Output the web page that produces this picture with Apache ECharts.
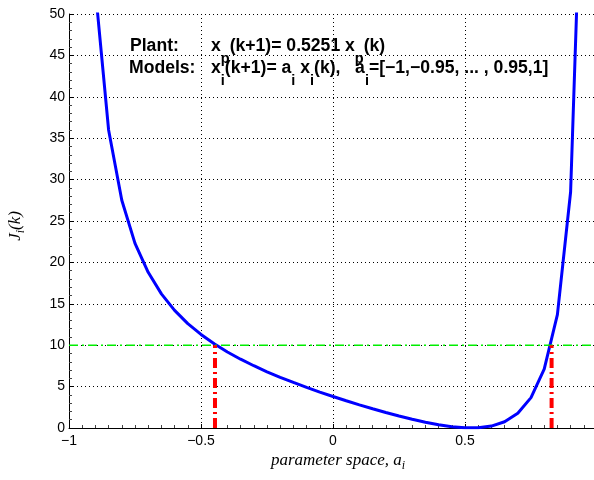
<!DOCTYPE html>
<html><head><meta charset="utf-8">
<script src="https://cdn.jsdelivr.net/npm/echarts@6/dist/echarts.min.js"></script>
<style>html,body{margin:0;padding:0;background:#fff}#c{width:594px;height:480px}</style>
</head><body><div id="c"></div>
<script>
// parameter space a_i = [-1, -0.95, ..., 0.95, 1]
const paramValues = [-1, -0.95, -0.9, -0.85, -0.8, -0.75, -0.7, -0.65, -0.6, -0.55, -0.5,
  -0.45, -0.4, -0.35, -0.3, -0.25, -0.2, -0.15, -0.1, -0.05, 0,
  0.05, 0.1, 0.15, 0.2, 0.25, 0.3, 0.35, 0.4, 0.45, 0.5,
  0.55, 0.6, 0.65, 0.7, 0.75, 0.8, 0.85, 0.9, 0.95, 1];
// cost J_i(k) (values above 50 are off the plot)
const costValues = [210, 103.0, 52.9, 36.0, 27.5, 22.3, 18.8, 16.2, 14.2, 12.6, 11.3,
  10.17, 9.18, 8.31, 7.52, 6.79, 6.12, 5.50, 4.91, 4.34, 3.81,
  3.29, 2.80, 2.33, 1.88, 1.45, 1.06, 0.70, 0.39, 0.16, 0.02,
  0.02, 0.23, 0.76, 1.79, 3.67, 7.10, 13.7, 28.5, 76.5, 210];
const xTickValues = [-1, -0.5, 0, 0.5, 1];
const yTickValues = [0, 5, 10, 15, 20, 25, 30, 35, 40, 45, 50];
const thresholdLevel = 10;
const crossingLeft = -0.447;
const crossingRight = 0.828;
const plantText = ['Plant:', 'x', 'p', '(k+1)= 0.5251 x', 'p', '(k)'];
const modelText = ['Models:', 'x', 'i', '(k+1)= a', 'i', ' x', 'i', '(k),   a', 'i', '=[\u22121,\u22120.95, ... , 0.95,1]'];

const curveData = paramValues.map((a, i) => [a, costValues[i]]);
const SANS = 'Liberation Sans, Arial, Helvetica, sans-serif';
const SERIF = 'Liberation Serif, Times New Roman, serif';
const fmt = v => String(v).replace('-', '\u2212');

const chart = echarts.init(document.getElementById('c'), null, {renderer: 'canvas'});

const mainTok = {fontSize: 17.6, fontWeight: 'bold', fontFamily: SANS, fill: '#000', verticalAlign: 'top'};
const subTok = {fontSize: 14.5, fontWeight: 'bold', fontFamily: SANS, fill: '#000', verticalAlign: 'top', padding: [14, 0, 0, 0]};
function richLine(parts, labelWidth) {
  let s = '{lab|' + parts[0] + '}';
  for (let i = 1; i < parts.length; i++) {
    s += (i % 2 === 1 ? '{n|' : '{s|') + parts[i] + '}';
  }
  return {
    text: s,
    verticalAlign: 'top',
    align: 'left',
    rich: {
      lab: Object.assign({}, mainTok, {width: labelWidth}),
      n: mainTok,
      s: subTok
    }
  };
}

const option = {
  animation: false,
  backgroundColor: '#fff',
  grid: {left: 69, right: -3, top: 14, bottom: 52, containLabel: false, outerBoundsMode: 'none'},
  xAxis: {
    type: 'value',
    min: xTickValues[0], max: xTickValues[xTickValues.length - 1],
    interval: xTickValues[1] - xTickValues[0],
    axisLine: {show: true, onZero: false, lineStyle: {color: '#000', width: 1}},
    axisTick: {show: true, inside: true, length: 4, lineStyle: {color: '#000'}},
    minorTick: {show: true, splitNumber: 10, length: 3, lineStyle: {color: '#444'}},
    axisLabel: {color: '#000', fontSize: 14, fontFamily: SANS, margin: 6,
      formatter: v => (v === xTickValues[xTickValues.length - 1] ? '' : fmt(v))},
    splitLine: {show: true, lineStyle: {color: '#000', width: 1, type: [1, 3]}}
  },
  yAxis: {
    type: 'value',
    min: yTickValues[0], max: yTickValues[yTickValues.length - 1],
    interval: yTickValues[1] - yTickValues[0],
    axisLine: {show: true, onZero: false, lineStyle: {color: '#000', width: 1}},
    axisTick: {show: true, inside: true, length: 4, lineStyle: {color: '#000'}},
    minorTick: {show: true, splitNumber: 5, length: 3, lineStyle: {color: '#444'}},
    axisLabel: {color: '#000', fontSize: 14, fontFamily: SANS, margin: 4, formatter: fmt},
    splitLine: {show: true, lineStyle: {color: '#000', width: 1, type: [1, 3]}}
  },
  series: [
    {
      type: 'line', data: curveData, showSymbol: false, symbol: 'none', clip: true,
      lineStyle: {color: '#0000ff', width: 3}, z: 2
    },
    {
      type: 'line', data: [[xTickValues[0], thresholdLevel], [xTickValues[xTickValues.length - 1], thresholdLevel]],
      symbol: 'none', lineStyle: {color: '#00ee00', width: 1.5, type: [9, 4, 2, 4]}, z: 3
    },
    {
      type: 'line', data: [[crossingLeft, 0], [crossingLeft, thresholdLevel]],
      symbol: 'none', lineStyle: {color: '#ff0000', width: 4, type: [10, 4, 2, 4], cap: 'butt'}, z: 4
    },
    {
      type: 'line', data: [[crossingRight, 0], [crossingRight, thresholdLevel]],
      symbol: 'none', lineStyle: {color: '#ff0000', width: 4, type: [10, 4, 2, 4], cap: 'butt'}, z: 4
    }
  ],
  graphic: [
    {type: 'text', x: 130, y: 37, z: 10, style: richLine(plantText, 81)},
    {type: 'text', x: 129, y: 59.5, z: 10, style: richLine(modelText, 82)},
    {
      type: 'text', x: 338, y: 452, z: 10,
      style: {
        text: '{n|parameter space, a}{s|i}', align: 'center', verticalAlign: 'top',
        rich: {
          n: {fontSize: 17, fontStyle: 'italic', fontFamily: SERIF, fill: '#000', verticalAlign: 'top'},
          s: {fontSize: 12, fontStyle: 'italic', fontFamily: SERIF, fill: '#000', verticalAlign: 'top', padding: [8, 0, 0, 0]}
        }
      }
    },
    {
      type: 'text', x: 17, y: 226, rotation: Math.PI / 2, z: 10,
      style: {
        text: '{n|J}{s|i}{n|(k)}', align: 'center', verticalAlign: 'middle',
        rich: {
          n: {fontSize: 17, fontStyle: 'italic', fontFamily: SERIF, fill: '#000', verticalAlign: 'top'},
          s: {fontSize: 12, fontStyle: 'italic', fontFamily: SERIF, fill: '#000', verticalAlign: 'top', padding: [8, 0, 0, 0]}
        }
      }
    }
  ]
};
chart.setOption(option);
</script>
</body></html>
